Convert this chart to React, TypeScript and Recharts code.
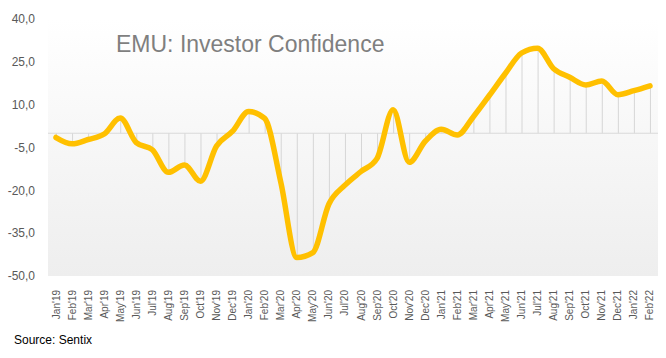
import { ComposedChart, Line, Bar, XAxis, YAxis, CartesianGrid, ReferenceLine } from 'recharts';

const months = [
  "Jan'19", "Feb'19", "Mar'19", "Apr'19", "May'19", "Jun'19", "Jul'19", "Aug'19", "Sep'19", "Oct'19", "Nov'19", "Dec'19",
  "Jan'20", "Feb'20", "Mar'20", "Apr'20", "May'20", "Jun'20", "Jul'20", "Aug'20", "Sep'20", "Oct'20", "Nov'20", "Dec'20",
  "Jan'21", "Feb'21", "Mar'21", "Apr'21", "May'21", "Jun'21", "Jul'21", "Aug'21", "Sep'21", "Oct'21", "Nov'21", "Dec'21",
  "Jan'22", "Feb'22",
];

const investorConfidence = [
  -1.5, -3.7, -2.2, -0.3, 5.3, -3.3, -5.8, -13.7, -11.1, -16.8, -4.5, 0.7,
  7.6, 5.2, -17.1, -43.5, -41.8, -24.8, -18.2, -13.4, -8.8, 8.2, -10.2, -2.8,
  1.4, -0.6, 5.8, 13.3, 21.0, 28.1, 29.8, 22.6, 19.6, 16.9, 18.3, 13.5,
  14.9, 16.6,
];

const yTicks = [-50, -35, -20, -5, 10, 25, 40];

const data = months.map((m, i) => ({ month: m, value: investorConfidence[i] }));

const fontFamily = '"Liberation Sans", Arial, sans-serif';

function MonthTick({ x, y, payload }: any) {
  return (
    <text
      x={0}
      y={0}
      transform={`translate(${x},${y}) rotate(-90)`}
      textAnchor="end"
      dy="0.35em"
      fontSize={10}
      fill="#595959"
      fontFamily={fontFamily}
    >
      {payload.value}
    </text>
  );
}

export default function App() {
  return (
    <div style={{ position: 'absolute', left: 0, top: 0, width: 666, height: 358, background: '#fff' }}>
      <ComposedChart
        width={666}
        height={358}
        data={data}
        margin={{ top: 19, right: 8, bottom: 32, left: 0 }}
        barCategoryGap={0}
      >
        <defs>
          <linearGradient id="plotBg" x1="0" y1="0" x2="0" y2="1">
            <stop offset="0%" stopColor="#ffffff" />
            <stop offset="100%" stopColor="#eeeeee" />
          </linearGradient>
        </defs>
        <CartesianGrid horizontal={false} vertical={false} fill="url(#plotBg)" />
        <XAxis
          dataKey="month"
          interval={0}
          tickLine={false}
          axisLine={false}
          height={50}
          tickMargin={8}
          tick={<MonthTick />}
        />
        <YAxis
          domain={[-50, 40]}
          ticks={yTicks}
          interval={0}
          width={48}
          tickLine={false}
          axisLine={false}
          tickSize={0}
          tickMargin={13}
          tickFormatter={(v: number) => v.toFixed(1).replace('.', ',')}
          tick={{ fontSize: 12, fill: '#595959', fontFamily }}
        />
        <ReferenceLine y={0} stroke="#d9d9d9" strokeWidth={1} />
        <Bar dataKey="value" barSize={1} fill="#d6d6d6" isAnimationActive={false} />
        <Line
          type="monotone"
          dataKey="value"
          stroke="#ffc000"
          strokeWidth={5.5}
          dot={false}
          strokeLinecap="round"
          isAnimationActive={false}
        />
      </ComposedChart>
      <div
        style={{
          position: 'absolute',
          left: 116,
          top: 31,
          fontFamily,
          fontSize: 23,
          color: '#7f7f7f',
          whiteSpace: 'nowrap',
        }}
      >
        EMU: Investor Confidence
      </div>
      <div
        style={{
          position: 'absolute',
          left: 14,
          top: 333,
          fontFamily,
          fontSize: 12,
          color: '#000',
          whiteSpace: 'nowrap',
        }}
      >
        Source: Sentix
      </div>
    </div>
  );
}
